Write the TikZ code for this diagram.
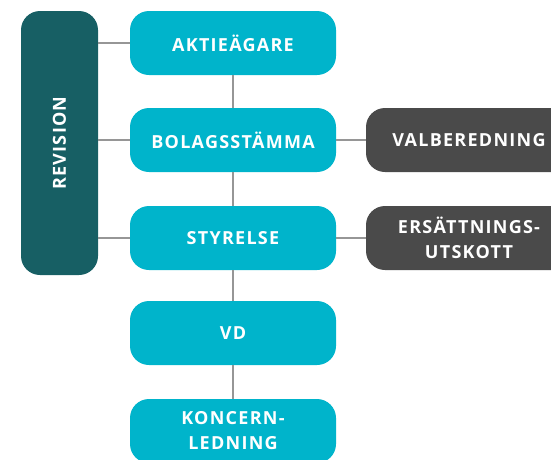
\documentclass[tikz,border=0pt]{standalone}
\usepackage{fontspec}
\usepackage{tikz}
\usetikzlibrary{
    shapes,
    backgrounds,
    calc,
    positioning,
}
\newfontfamily\orgfont{Open Sans}[LetterSpace=7]
\definecolor{orgTeal}{RGB}{0,180,203}
\definecolor{orgDark}{RGB}{23,95,100}
\definecolor{orgGrey}{RGB}{74,74,74}
\definecolor{orgLine}{RGB}{150,150,150}

\begin{document}
\begin{tikzpicture}[x=1pt,y=-1pt]

    \tikzstyle{commonNode}=[font=\orgfont\bfseries\fontsize{18}{25}\selectfont, text=white, align=center, rounded corners=19pt, inner sep=0pt]
    \tikzstyle{body}=[commonNode, fill=orgTeal, minimum width=206pt, minimum height=64pt]
    \tikzstyle{committee}=[commonNode, fill=orgGrey, minimum width=206pt, minimum height=64pt]
    \tikzstyle{audit}=[commonNode, fill=orgDark, minimum width=77pt, minimum height=264pt]
    \tikzstyle{link}=[draw=orgLine, line width=2pt]

    \useasboundingbox (0,0) rectangle (551,459);
    \clip (0,0) rectangle (551,459);

    \begin{scope}
        % Spacing the nodes out
        \def \midx {233}
        \def \sidex {469}

        % Audit column
        \node at (59.5,143) [audit] (REV) {};
        \node at (REV.center) [commonNode, rotate=90] (REVtxt) {REVISION};

        % Main chain
        \node at (\midx,43) [body] (AG) {AKTIEÄGARE};
        \node at (\midx,140) [body] (BS) {BOLAGSSTÄMMA}
            edge [link] (AG);
        \node at (\midx,238) [body] (ST) {STYRELSE}
            edge [link] (BS);
        \node at (\midx,333) [body] (VD) {VD}
            edge [link] (ST);
        \node at (\midx,431) [body] (KL) {KONCERN-\\LEDNING}
            edge [link] (VD);

        % Committees
        \node at (\sidex,140) [committee] (VB) {VALBEREDNING}
            edge [link] (BS);
        \node at (\sidex,238) [committee] (EU) {ERSÄTTNINGS-\\UTSKOTT}
            edge [link] (ST);

        % Audit links
        \draw [link] (REV.east |- AG) -- (AG);
        \draw [link] (REV.east |- BS) -- (BS);
        \draw [link] (REV.east |- ST) -- (ST);
    \end{scope}

\end{tikzpicture}
\end{document}
